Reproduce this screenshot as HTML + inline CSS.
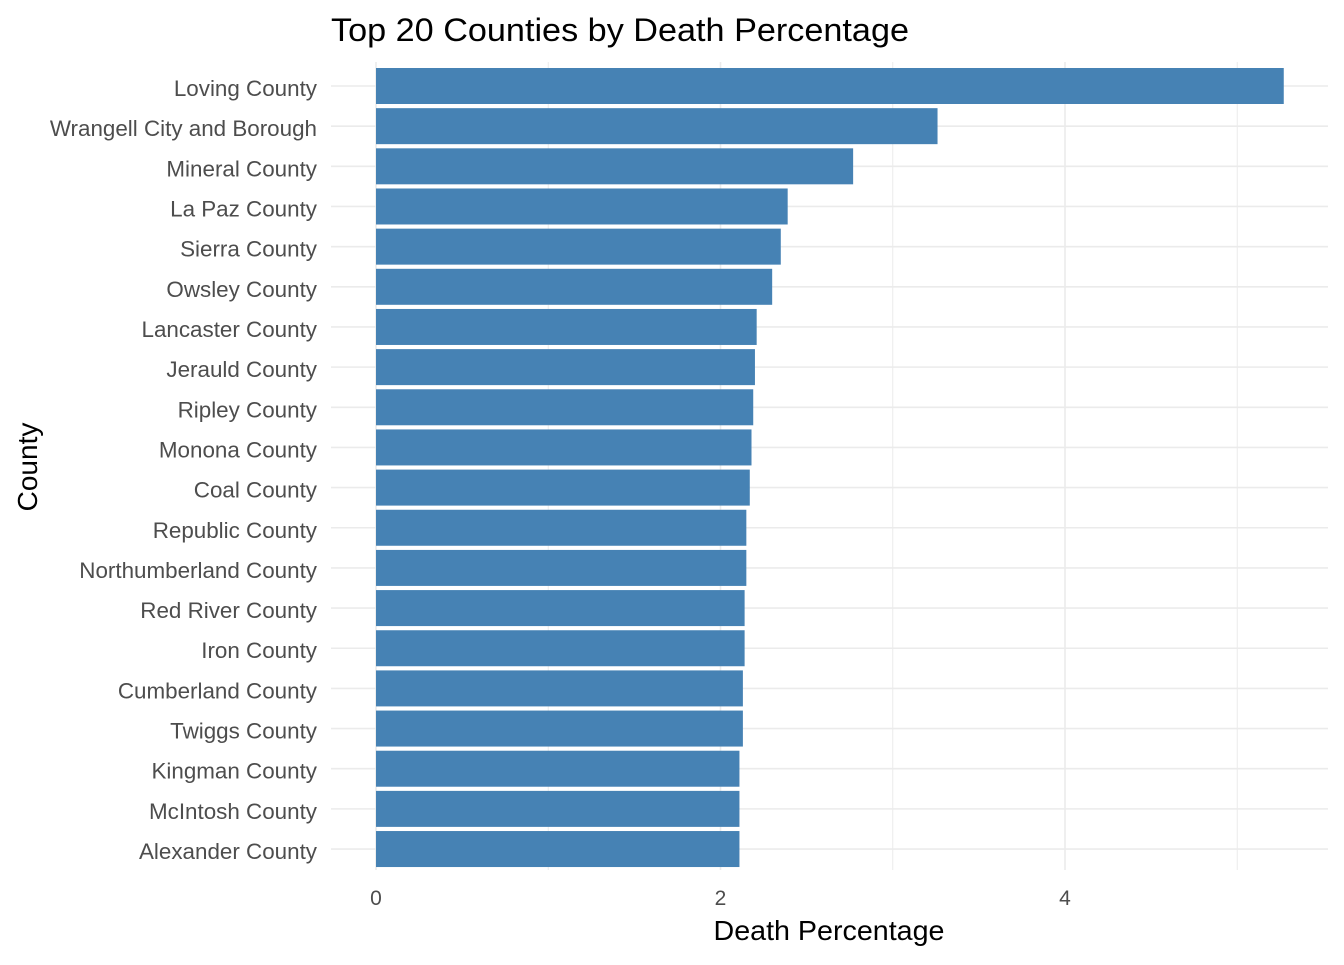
<!DOCTYPE html>
<html><head><meta charset="utf-8"><style>
body{margin:0;background:#fff;}
svg text{font-family:"Liberation Sans",Arial,sans-serif;}
</style></head><body>
<svg id="chart" width="1344" height="960" xmlns="http://www.w3.org/2000/svg">
<rect width="1344" height="960" fill="#fff"/>
<text x="331" y="41" font-size="32" fill="#000" textLength="578" lengthAdjust="spacingAndGlyphs">Top 20 Counties by Death Percentage</text>
<text x="829" y="940" font-size="28" fill="#000" text-anchor="middle" textLength="231" lengthAdjust="spacingAndGlyphs">Death Percentage</text>
<text transform="translate(37,467) rotate(-90)" font-size="28" fill="#000" text-anchor="middle">County</text>
<g id="grid"></g><g id="bars"></g><g id="labels"></g>
</svg>
<script>
const counties=["Loving County","Wrangell City and Borough","Mineral County","La Paz County","Sierra County","Owsley County","Lancaster County","Jerauld County","Ripley County","Monona County","Coal County","Republic County","Northumberland County","Red River County","Iron County","Cumberland County","Twiggs County","Kingman County","McIntosh County","Alexander County"];
const values=[5.27,3.26,2.77,2.39,2.35,2.30,2.21,2.20,2.19,2.18,2.17,2.15,2.15,2.14,2.14,2.13,2.13,2.11,2.11,2.11];
const xTicks=[0,2,4];
const xMinor=[1,3,5];
const NS="http://www.w3.org/2000/svg";
const x=v=>376+v*172.25;
const step=40.16, y0=86;
const y=i=>y0+i*step;
const L=331,R=1328,T=62,B=870;
const grid=document.getElementById('grid'),bars=document.getElementById('bars'),labels=document.getElementById('labels');
function mk(tag,attrs,parent){const e=document.createElementNS(NS,tag);for(const k in attrs)e.setAttribute(k,attrs[k]);parent.appendChild(e);return e;}
xMinor.forEach(v=>{const l=mk('line',{x1:x(v),x2:x(v),y1:T,y2:B,stroke:'#ebebeb','stroke-width':1},grid);

});
xTicks.forEach(v=>{const l=mk('line',{x1:x(v),x2:x(v),y1:T,y2:B,stroke:'#ebebeb','stroke-width':1.6},grid);


const t=mk('text',{x:x(v),y:905,'font-size':21,fill:'#4d4d4d','text-anchor':'middle'},labels);t.textContent=v;

});
counties.forEach((c,i)=>{const l=mk('line',{x1:L,x2:R,y1:y(i),y2:y(i),stroke:'#ebebeb','stroke-width':1.6},grid);


const r=mk('rect',{x:x(0),y:y(i)-18,width:x(values[i])-x(0),height:36,fill:'#4682b4'},bars);


const t=mk('text',{x:317,y:y(i)+10,'font-size':22.4,fill:'#4d4d4d','text-anchor':'end'},labels);t.textContent=c;

});
</script>
</body></html>
